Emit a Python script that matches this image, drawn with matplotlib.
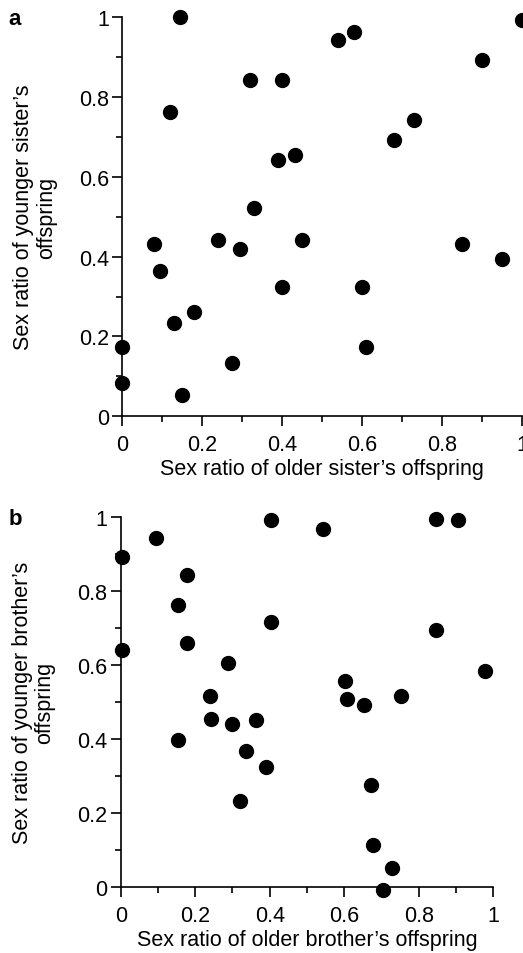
import matplotlib
matplotlib.use("Agg")
import matplotlib.pyplot as plt
from matplotlib.ticker import MultipleLocator, FuncFormatter

plt.rcParams['font.family'] = ['Liberation Sans', 'DejaVu Sans']

# panel a: sisters
older_sister = [0.145, 0.318, 0.398, 0.118, 0.388, 0.432, 0.329,
                0.538, 0.578, 1.0, 0.898, 0.729, 0.679,
                0.078, 0.093, 0.238, 0.294, 0.449, 0.399, 0.180, 0.130,
                0.0, 0.0, 0.273, 0.150,
                0.849, 0.950, 0.600, 0.610]
younger_sister = [0.999, 0.842, 0.842, 0.761, 0.642, 0.655, 0.522,
                  0.943, 0.963, 0.992, 0.892, 0.743, 0.692,
                  0.432, 0.365, 0.442, 0.419, 0.442, 0.323, 0.262, 0.233,
                  0.173, 0.083, 0.134, 0.054,
                  0.432, 0.393, 0.323, 0.174]

# panel b: brothers
older_brother = [0.403, 0.094, 0.003, 0.178, 0.155, 0.403, 0.178, 0.004, 0.288,
                 0.544, 0.847, 0.904, 0.847, 0.977, 0.602,
                 0.607, 0.654, 0.752, 0.673, 0.678, 0.729, 0.703,
                 0.240, 0.242, 0.298, 0.362, 0.154, 0.335, 0.389, 0.319]
younger_brother = [0.992, 0.942, 0.892, 0.842, 0.761, 0.716, 0.659, 0.639, 0.606,
                   0.968, 0.993, 0.992, 0.693, 0.582, 0.556,
                   0.507, 0.492, 0.516, 0.276, 0.113, 0.050, -0.008,
                   0.516, 0.453, 0.441, 0.450, 0.396, 0.367, 0.324, 0.232]

FS = 15.5

fig = plt.figure(figsize=(5.23, 9.54), dpi=100)
ax_a = fig.add_axes([0.2339, 0.5626, 0.7648, 0.4185])
ax_b = fig.add_axes([0.2308, 0.0695, 0.7124, 0.3878])


def style_axis(ax):
    ax.set_xlim(0, 1)
    ax.set_ylim(0, 1)
    for side in ['top', 'right']:
        ax.spines[side].set_visible(False)
    for side in ['left', 'bottom']:
        ax.spines[side].set_linewidth(1.2)
    ax.xaxis.set_major_locator(MultipleLocator(0.2))
    ax.xaxis.set_minor_locator(MultipleLocator(0.1))
    ax.yaxis.set_major_locator(MultipleLocator(0.2))
    ax.yaxis.set_minor_locator(MultipleLocator(0.1))
    fmt = FuncFormatter(lambda v, p: f"{v:g}")
    ax.xaxis.set_major_formatter(fmt)
    ax.yaxis.set_major_formatter(fmt)
    ax.tick_params(which='major', direction='out', length=7.5, width=1.2, labelsize=FS)
    ax.tick_params(which='minor', direction='out', length=4, width=1.2)
    ax.tick_params(axis='x', which='major', pad=5.5)
    ax.tick_params(axis='y', which='major', pad=2)


ax_a.scatter(older_sister, younger_sister, s=100, color='black', clip_on=False, zorder=3)
style_axis(ax_a)
ax_a.set_xlabel("Sex ratio of older sister\u2019s offspring", fontsize=FS, labelpad=2)
ax_a.set_ylabel("Sex ratio of younger sister\u2019s\noffspring", fontsize=FS, labelpad=16,
                linespacing=1.1)

ax_b.scatter(older_brother, younger_brother, s=100, color='black', clip_on=False, zorder=3)
style_axis(ax_b)
ax_b.set_xlabel("Sex ratio of older brother\u2019s offspring", fontsize=FS, labelpad=2)
ax_b.set_ylabel("Sex ratio of younger brother\u2019s\noffspring", fontsize=FS, labelpad=16,
                linespacing=1.1)

fig.text(0.016, 0.9738, "a", fontsize=16, fontweight='bold', va='baseline', ha='left')
fig.text(0.016, 0.4497, "b", fontsize=16, fontweight='bold', va='baseline', ha='left')

fig.savefig("out.png", dpi=100)
